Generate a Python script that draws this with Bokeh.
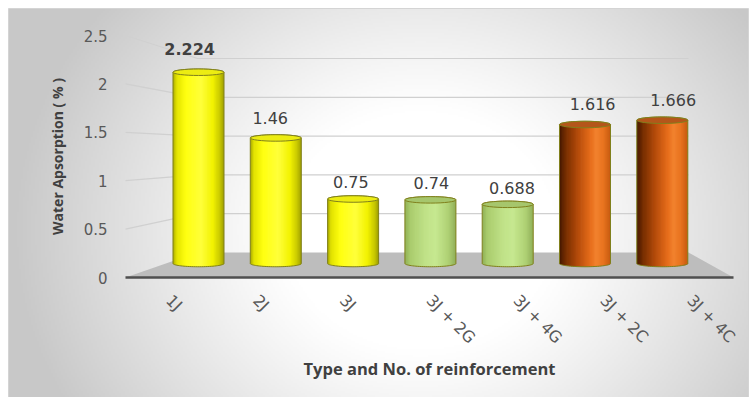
import numpy as np
from bokeh.plotting import figure
from bokeh.models import Range1d, LinearAxis, FixedTicker, ColumnDataSource
from bokeh.core.properties import value
from bokeh.embed import file_html
from bokeh.resources import INLINE

# ---- data -----------------------------------------------------------------
categories = ["1J", "2J", "3J", "3J + 2G", "3J + 4G", "3J + 2C", "3J + 4C"]
absorption = [2.224, 1.46, 0.75, 0.74, 0.688, 1.616, 1.666]
groups = ["J", "J", "J", "G", "G", "C", "C"]
y_ticks = [0, 0.5, 1, 1.5, 2, 2.5]
y_tick_labels = ["0", "0.5", "1", "1.5", "2", "2.5"]

# ---- canvas / pseudo 3-D box geometry (screen pixels, origin top-left) ------
W, H = 755, 397
BAR_X0, BAR_DX = 198.0, 77.3      # first cylinder centre, slot pitch
BAR_Y0, BAR_DY = 263.0, 86.0      # cylinder baseline, pixels per unit
F_LEFT, F_RIGHT, F_BASE, F_SCALE = 125.0, 733.0, 277.0, 96.8   # front plane
B_LEFT, B_RIGHT, B_BASE, B_SCALE = 197.0, 688.0, 252.0, 77.6   # back wall
F_PITCH = (F_RIGHT - F_LEFT) / len(categories)
F_X0 = F_LEFT + F_PITCH / 2


def to_x(px):
    return (px - BAR_X0) / BAR_DX


def to_y(py):
    return (BAR_Y0 - py) / BAR_DY


p = figure(width=W, height=H,
           x_range=Range1d(to_x(0), to_x(W)), y_range=Range1d(to_y(H), to_y(0)),
           output_backend="svg", toolbar_location=None,
           x_axis_location=None, y_axis_location=None, min_border=0,
           background_fill_color="white", border_fill_color="white",
           outline_line_color=None)
p.grid.visible = False

# ---- chart-area background: soft radial grey gradient ----------------------
AX0, AX1, AY0, AY1 = 8.0, 748.0, 8.0, 397.0
nx, ny = 370, 195
gx = AX0 + (np.arange(nx) + 0.5) * (AX1 - AX0) / nx
gy = AY1 - (np.arange(ny) + 0.5) * (AY1 - AY0) / ny
PX, PY = np.meshgrid(gx, gy)
r = np.sqrt(((PX - 420) / 340) ** 2 + ((PY - 230) / 300) ** 2)
shade = np.clip((r - 0.4) / 0.8, 0, 1) ** 1.1
g = (255 - 55 * shade).astype(np.uint8)
img = np.empty((ny, nx), dtype=np.uint32)
view = img.view(dtype=np.uint8).reshape((ny, nx, 4))
view[..., 0] = g
view[..., 1] = g
view[..., 2] = g
view[..., 3] = 255
p.image_rgba(image=[img], x=to_x(AX0), y=to_y(AY1),
             dw=(AX1 - AX0) / BAR_DX, dh=(AY1 - AY0) / BAR_DY)
p.quad(left=[to_x(AX0)], right=[to_x(AX1)], bottom=[to_y(AY1)], top=[to_y(AY0)],
       fill_color=None, line_color="#d4d4d4", line_width=1)

# ---- walls: gridlines on side wall and back wall ---------------------------
gxs, gys = [], []
for t in y_ticks[1:]:
    fy = F_BASE - F_SCALE * t
    by = B_BASE - B_SCALE * t
    gxs.append([to_x(F_LEFT), to_x(B_LEFT), to_x(B_RIGHT)])
    gys.append([to_y(fy), to_y(by), to_y(by)])
p.multi_line(xs=gxs, ys=gys, line_color="#d0d0d0", line_width=1.2)

# floor and its front edge
p.patch(x=[to_x(F_LEFT), to_x(F_RIGHT), to_x(B_RIGHT), to_x(B_LEFT)],
        y=[to_y(F_BASE), to_y(F_BASE), to_y(B_BASE), to_y(B_BASE)],
        fill_color="#bdbdbd", line_color=None)
p.line(x=[to_x(F_LEFT), to_x(F_RIGHT)], y=[to_y(F_BASE), to_y(F_BASE)],
       line_color="#4f4f4f", line_width=2.5)

# ---- cylinders --------------------------------------------------------------
SHADES = {
    "J": [(0.0, "#a8a800"), (0.07, "#e2e200"), (0.25, "#ffff10"), (0.55, "#ffff3a"),
          (0.78, "#f2f200"), (0.92, "#c8c800"), (1.0, "#9c9c00")],
    "G": [(0.0, "#8fb055"), (0.1, "#a9cb6c"), (0.4, "#c0e288"), (0.6, "#c6e890"),
          (0.85, "#afd174"), (1.0, "#8fae58")],
    "C": [(0.0, "#441600"), (0.12, "#762e00"), (0.35, "#b24a0a"), (0.6, "#e66c1a"),
          (0.72, "#f2822e"), (0.86, "#e8731e"), (1.0, "#c65a10")],
}
TOPS = {"J": "#ecec12", "G": "#a6c66c", "C": "#b4561a"}
OUTLINE = "#80801c"


def hex_rgb(h):
    return [int(h[k:k + 2], 16) for k in (1, 3, 5)]


def ramp(stops, t):
    pos = [s[0] for s in stops]
    cols = np.array([hex_rgb(s[1]) for s in stops], float)
    rgb = [int(round(np.interp(t, pos, cols[:, k]))) for k in range(3)]
    return "#%02x%02x%02x" % tuple(rgb)


N = 40
bar_w = 0.66
ell = 6.5 / BAR_DY          # full height of the elliptical caps
e = ell / 2
L, R, B, T, C = [], [], [], [], []
for i, (v, grp) in enumerate(zip(absorption, groups)):
    for j in range(N):
        t0, t1 = j / N, (j + 1) / N
        tc = (t0 + t1) / 2
        L.append(i - bar_w / 2 + t0 * bar_w)
        # strips overlap their right neighbour slightly to avoid hairline seams
        R.append(i - bar_w / 2 + min(1.0, t1 + 0.6 / N) * bar_w)
        B.append(-e * np.sqrt(max(0.0, 1 - (2 * tc - 1) ** 2)))
        T.append(v)
        C.append(ramp(SHADES[grp], tc))
p.quad(left=L, right=R, bottom=B, top=T, fill_color=C, line_color=None)

# silhouettes
th_low = np.linspace(np.pi, 2 * np.pi, 40)
th_up = np.linspace(0, np.pi, 40)
sx, sy = [], []
for i, v in enumerate(absorption):
    xs = list(i + bar_w / 2 * np.cos(th_low)) + list(i + bar_w / 2 * np.cos(th_up))
    ys = list(e * np.sin(th_low)) + list(v + e * np.sin(th_up))
    sx.append(xs)
    sy.append(ys)
p.patches(xs=sx, ys=sy, fill_color=None, line_color=OUTLINE, line_width=1)

p.ellipse(x=list(range(len(absorption))), y=absorption, width=bar_w, height=ell,
          fill_color=[TOPS[g_] for g_ in groups], line_color=OUTLINE, line_width=1)

# ---- value labels -------------------------------------------------------------
lab = ColumnDataSource(dict(
    x=list(range(len(absorption))),
    y=absorption,
    text=[str(v) for v in absorption],
    xo=[3.3 * (i - 2.7) for i in range(len(absorption))],
    yo=[-(13.4 + 4.2 * v) for v in absorption],
    style=["bold" if v == max(absorption) else "normal" for v in absorption],
))
p.text(x="x", y="y", text="text", x_offset="xo", y_offset="yo", source=lab,
       text_font=value("DejaVu Sans"), text_font_size="16px", text_font_style="style",
       text_color="#404040", text_align="center", text_baseline="middle")

# ---- axes on the front plane --------------------------------------------------
p.extra_y_ranges = {"front_y": Range1d((F_BASE - H) / F_SCALE, F_BASE / F_SCALE)}
p.extra_x_ranges = {"front_x": Range1d((0 - F_X0) / F_PITCH, (W - F_X0) / F_PITCH)}

yax = LinearAxis(y_range_name="front_y", fixed_location=to_x(111),
                 ticker=FixedTicker(ticks=y_ticks),
                 major_label_overrides={t: s for t, s in zip(y_ticks, y_tick_labels)},
                 bounds=(y_ticks[0], y_ticks[-1]),
                 axis_label="Water Apsorption ( % )")
xax = LinearAxis(x_range_name="front_x", fixed_location=to_y(F_BASE),
                 ticker=FixedTicker(ticks=list(range(len(categories)))),
                 major_label_overrides={i: c for i, c in enumerate(categories)},
                 bounds=(-0.5, len(categories) - 0.5),
                 axis_label="Type and No. of reinforcement",
                 major_label_orientation=-np.pi / 4)
for ax in (xax, yax):
    ax.axis_line_color = None
    ax.major_tick_line_color = None
    ax.minor_tick_line_color = None
    ax.major_tick_in = 0
    ax.major_tick_out = 0
    ax.major_label_text_font = "DejaVu Sans"
    ax.major_label_text_font_size = "15px"
    ax.major_label_text_color = "#595959"
    ax.axis_label_text_font = "Open Sans"
    ax.axis_label_text_font_style = "bold"
    ax.axis_label_text_color = "#404040"
yax.major_label_standoff = 4
yax.axis_label_standoff = 14
yax.axis_label_text_font_size = "14px"
xax.major_label_text_font_size = "16px"
xax.major_label_standoff = 20
xax.axis_label_standoff = 0
xax.axis_label_text_font_size = "16.5px"
p.add_layout(yax, "left")
p.add_layout(xax, "below")

open("out.html", "w").write(file_html(p, INLINE))
